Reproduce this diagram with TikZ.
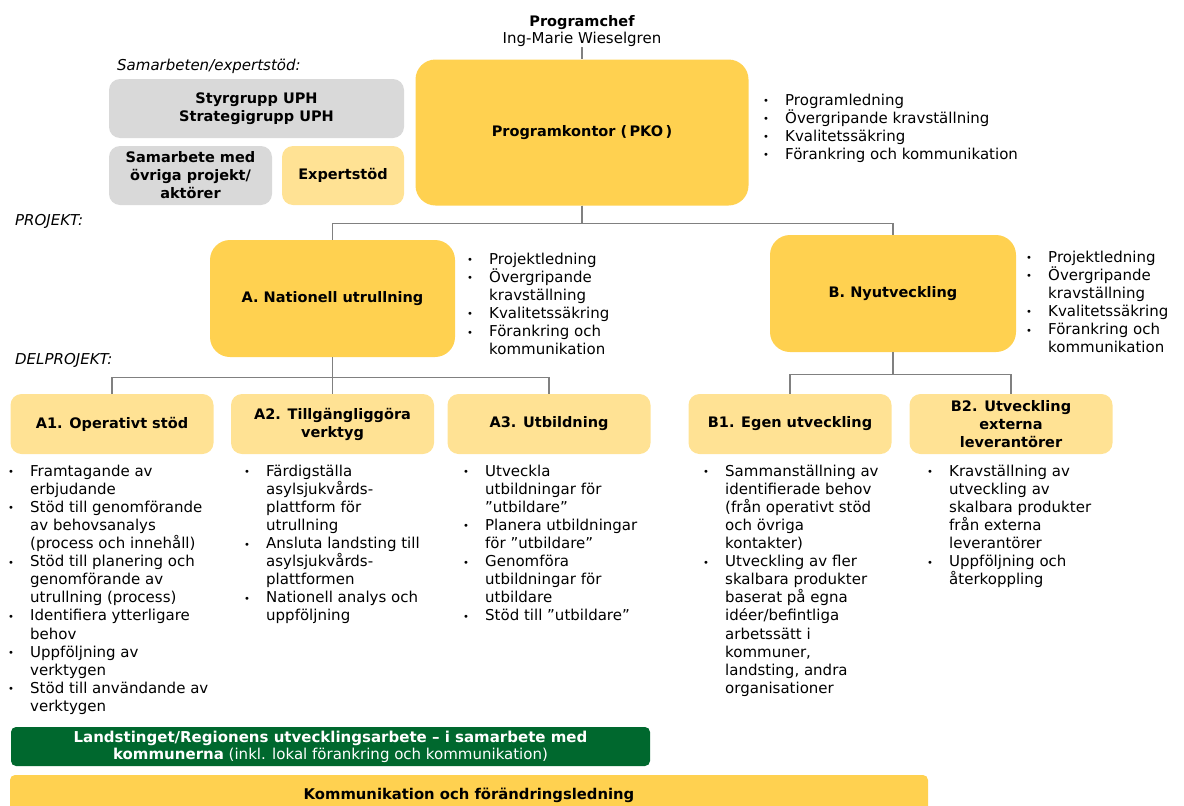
\documentclass[tikz,border=0pt]{standalone}
\usepackage{fontspec}
\setmainfont{DejaVu Sans}

\definecolor{pkogold}{RGB}{255,209,80}
\definecolor{subyellow}{RGB}{255,226,148}
\definecolor{boxgray}{RGB}{217,217,217}
\definecolor{bargreen}{RGB}{0,104,46}
\definecolor{linegray}{RGB}{128,128,128}

\newcommand{\blt}{\makebox[22pt][l]{\raisebox{0.5pt}{\fontsize{10}{10}\selectfont\textbullet}}}
\newcommand{\ind}{\hspace*{22pt}}

\begin{document}
\begin{tikzpicture}[x = 1pt, y = 1pt,
        bigbox/.style = {rectangle, rounded corners = 20pt, fill = pkogold, inner sep = 0pt, align = center,
            font = \fontsize{14.5}{18}\selectfont\bfseries},
        subbox/.style = {rectangle, rounded corners = 11pt, fill = subyellow, inner sep = 0pt, align = center,
            minimum width = 203pt, minimum height = 60pt, font = \fontsize{14.5}{18}\selectfont\bfseries},
        graybox/.style = {rectangle, rounded corners = 11pt, fill = boxgray, inner sep = 0pt, align = center,
            font = \fontsize{14.5}{18}\selectfont\bfseries},
        items/.style = {anchor = north west, inner sep = 0pt, align = left, font = \fontsize{15}{18.1}\selectfont},
        heading/.style = {anchor = west, inner sep = 0pt, font = \fontsize{15}{18}\selectfont\itshape},
        conn/.style = {draw = linegray, line width = 1.3pt}]

        \useasboundingbox (0, 0) rectangle (1184, -806);

        \node [anchor = south, inner sep = 0pt, align = center, font = \fontsize{15}{17}\selectfont] (chef) at (582, -47)
            {{\fontsize{14.5}{17}\selectfont\bfseries Programchef}\\Ing-Marie Wieselgren};

        \node [bigbox, minimum width = 333pt, minimum height = 146pt] (pko) at (582, -132.5) {Programkontor (\,PKO\,)};

        \node [heading] (samLabel) at (117, -66) {Samarbeten/expertstöd:};
        \node [graybox, minimum width = 295pt, minimum height = 59pt] (styr) at (256.5, -108.5) {Styrgrupp UPH\\Strategigrupp UPH};
        \node [graybox, minimum width = 163pt, minimum height = 59pt] (samarb) at (190.5, -175.5) {Samarbete med\\övriga projekt/\\aktörer};
        \node [graybox, fill = subyellow, minimum width = 122pt, minimum height = 59pt] (expert) at (343, -175.5) {Expertstöd};

        \node [items] (pkoList) at (763, -93.5) {\blt Programledning\\\blt Övergripande kravställning\\\blt Kvalitetssäkring\\\blt Förankring och kommunikation};

        \node [heading] (projLabel) at (15, -221) {PROJEKT:};
        \node [bigbox, minimum width = 245pt, minimum height = 117pt] (projA) at (332.5, -298.5) {A. Nationell utrullning};
        \node [bigbox, minimum width = 246pt, minimum height = 117pt] (projB) at (893, -293.5) {B. Nyutveckling};

        \node [items] (listA) at (467, -252.5) {\blt Projektledning\\\blt Övergripande\\\ind kravställning\\\blt Kvalitetssäkring\\\blt Förankring och\\\ind kommunikation};
        \node [items] (listB) at (1026, -250.5) {\blt Projektledning\\\blt Övergripande\\\ind kravställning\\\blt Kvalitetssäkring\\\blt Förankring och\\\ind kommunikation};

        \node [heading] (delLabel) at (15, -360) {DELPROJEKT:};
        \node [subbox] (a1) at (112, -424) {A1. Operativt stöd};
        \node [subbox] (a2) at (332.5, -424) {A2. Tillgängliggöra\\verktyg};
        \node [subbox] (a3) at (549, -424) {A3. Utbildning};
        \node [subbox] (b1) at (790, -424) {B1. Egen utveckling};
        \node [subbox] (b2) at (1011, -424) {B2. Utveckling\\externa\\leverantörer};

        \node [items] (listA1) at (8, -464.5) {\blt Framtagande av\\\ind erbjudande\\\blt Stöd till genomförande\\\ind av behovsanalys\\\ind (process och innehåll)\\\blt Stöd till planering och\\\ind genomförande av\\\ind utrullning (process)\\\blt Identifiera ytterligare\\\ind behov\\\blt Uppföljning av\\\ind verktygen\\\blt Stöd till användande av\\\ind verktygen};
        \node [items] (listA2) at (244, -464.5) {\blt Färdigställa\\\ind asylsjukvårds-\\\ind plattform för\\\ind utrullning\\\blt Ansluta landsting till\\\ind asylsjukvårds-\\\ind plattformen\\\blt Nationell analys och\\\ind uppföljning};
        \node [items] (listA3) at (463, -464.5) {\blt Utveckla\\\ind utbildningar för\\\ind ”utbildare”\\\blt Planera utbildningar\\\ind för ”utbildare”\\\blt Genomföra\\\ind utbildningar för\\\ind utbildare\\\blt Stöd till ”utbildare”};
        \node [items] (listB1) at (703, -464.5) {\blt Sammanställning av\\\ind identifierade behov\\\ind (från operativt stöd\\\ind och övriga\\\ind kontakter)\\\blt Utveckling av fler\\\ind skalbara produkter\\\ind baserat på egna\\\ind idéer/befintliga\\\ind arbetssätt i\\\ind kommuner,\\\ind landsting, andra\\\ind organisationer};
        \node [items] (listB2) at (927, -464.5) {\blt Kravställning av\\\ind utveckling av\\\ind skalbara produkter\\\ind från externa\\\ind leverantörer\\\blt Uppföljning och\\\ind återkoppling};

        \node [rectangle, rounded corners = 5pt, fill = bargreen, text = white, inner sep = 0pt, align = center,
            minimum width = 639pt, minimum height = 39pt, font = \fontsize{15}{17}\selectfont] (regionBar) at (330.5, -746.5)
            {\textbf{Landstinget/Regionens utvecklingsarbete – i samarbete med}\\\textbf{kommunerna} (inkl. lokal förankring och kommunikation)};
        \node [rectangle, rounded corners = 5pt, fill = pkogold, inner sep = 0pt, align = center,
            minimum width = 918pt, minimum height = 40pt, font = \fontsize{14.8}{18}\selectfont\bfseries] (commBar) at (469, -795)
            {Kommunikation och förändringsledning};

        \draw [conn] (chef.south) -- (pko.north);
        \draw [conn] (pko.south) -- ++(0, -18) -| (projA.north);
        \draw [conn] (pko.south) -- ++(0, -18) -| (projB.north);
        \draw [conn] (projA.south) -- (a2.north);
        \draw [conn] (projA.south) -- ++(0, -20) -| (a1.north);
        \draw [conn] (projA.south) -- ++(0, -20) -| (a3.north);
        \draw [conn] (projB.south) -- ++(0, -22) -| (b1.north);
        \draw [conn] (projB.south) -- ++(0, -22) -| (b2.north);
    \end{tikzpicture}
\end{document}
